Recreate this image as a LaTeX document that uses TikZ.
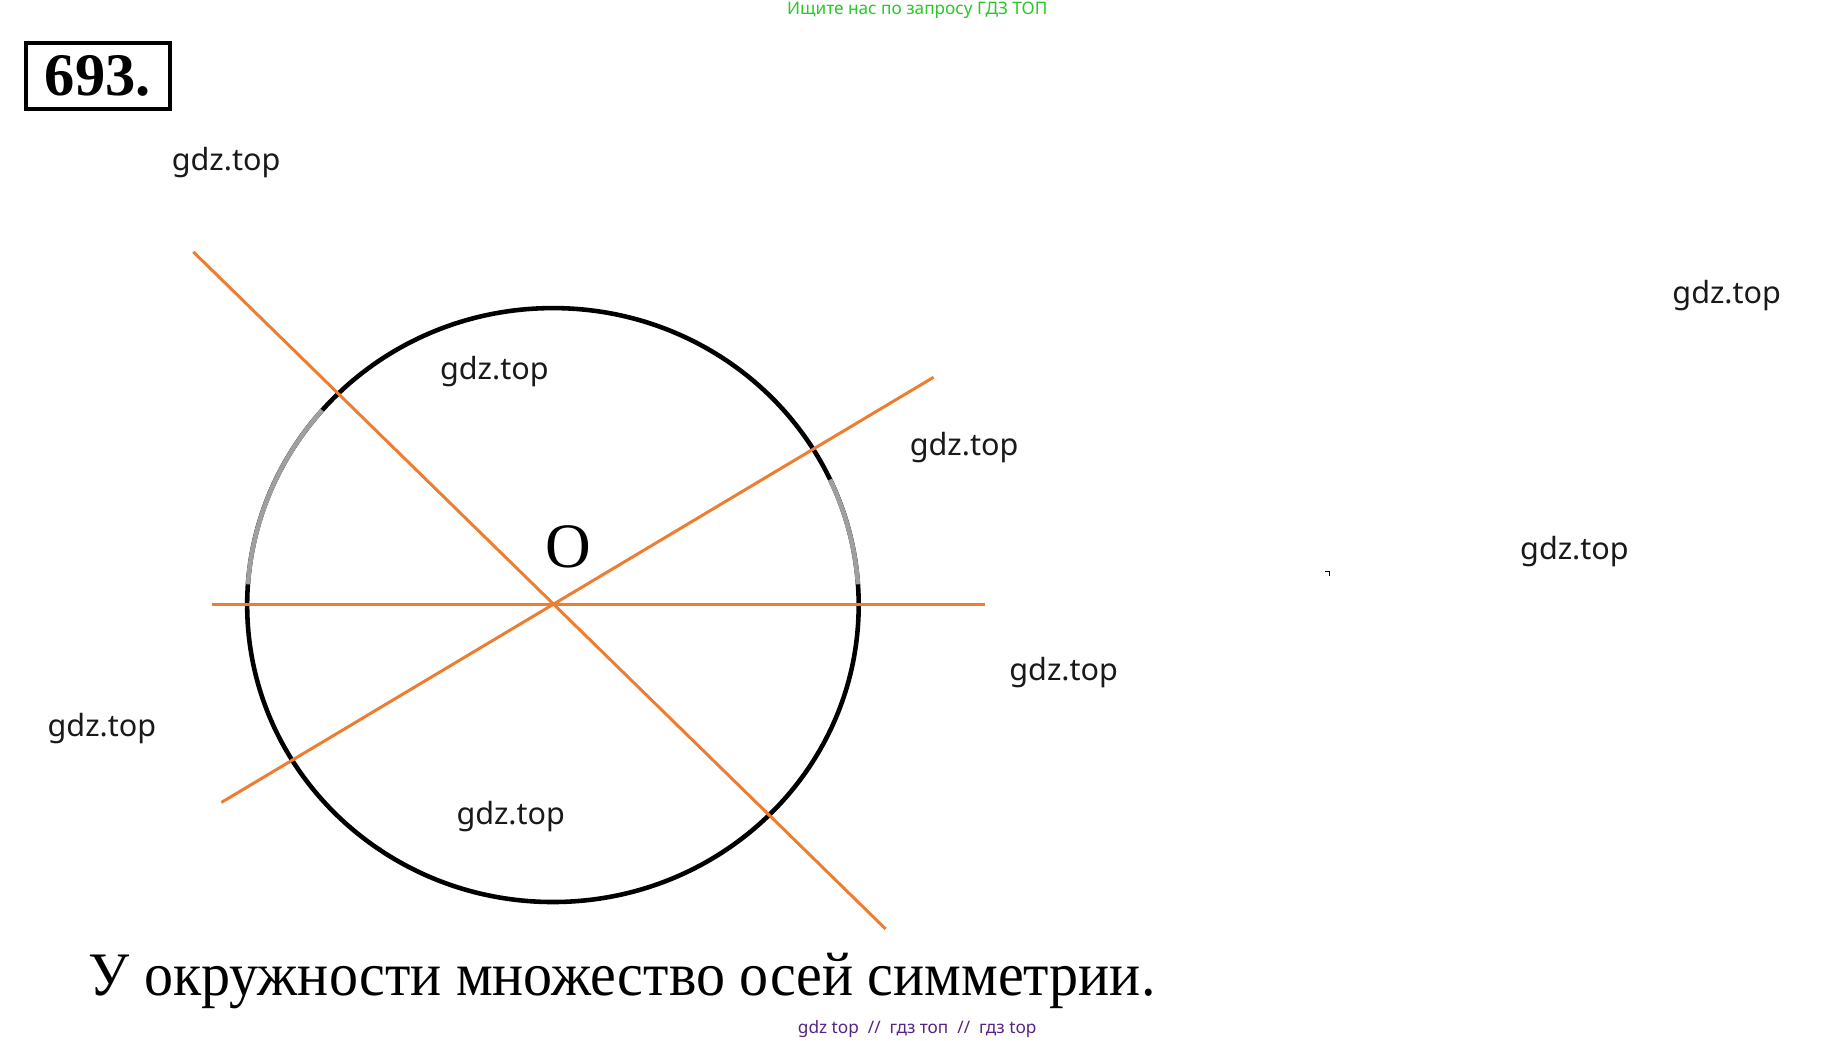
\documentclass[tikz,border=0pt]{standalone}
\usepackage{fontspec}
\setmainfont{Liberation Serif}
\newfontfamily\wmfont{Noto Sans}
\definecolor{axisorange}{RGB}{237,125,49}
\definecolor{hintgreen}{RGB}{40,200,40}
\definecolor{linkpurple}{RGB}{85,35,130}
\tikzset{
  axisline/.style={draw=axisorange, line width=0.85pt},
  wmark/.style={font=\wmfont\fontsize{8.7}{10}\selectfont, text=black!90},
  smallnote/.style={font=\wmfont\fontsize{4.9}{6}\selectfont},
}
\begin{document}
\begin{tikzpicture}[x=0.3333pt, y=-0.3333pt]
\useasboundingbox (0,0) rectangle (1563,888);
\coordinate (O) at (472,516.5);
\coordinate (h1) at (181,516);
\coordinate (h2) at (841,516);
\coordinate (a1) at (165,215);
\coordinate (a2) at (756,793);
\coordinate (b1) at (189,685);
\coordinate (b2) at (797,322);
\path[draw, line width=1.3pt] (O) ellipse [x radius=261, y radius=253.5];
\path[draw=gray!75, line width=1.3pt] (O) ++(-139:261 and 253.5) arc[start angle=-139, end angle=-176, x radius=261, y radius=253.5];
\path[draw=gray!75, line width=1.3pt] (O) ++(-25:261 and 253.5) arc[start angle=-25, end angle=-4, x radius=261, y radius=253.5];
\path[axisline] (h1) -- (h2);
\path[axisline] (a1) -- (a2);
\path[axisline] (b1) -- (b2);
\node[font=\fontsize{18}{20}\selectfont] (olabel) at (485,467) {O};
\node[draw, line width=1.15pt, minimum width=41pt, minimum height=18.7pt, inner sep=0pt, font=\bfseries\fontsize{17.2}{19}\selectfont] (num) at (83.5,65) {693.};
\node[anchor=base west, inner sep=0pt, font=\fontsize{17.6}{20}\selectfont] (answer) at (75,850) {\scalebox{0.938}[1]{У окружности множество осей симметрии.}};
\node[smallnote, text=hintgreen] (hint) at (783,9) {Ищите нас по запросу ГДЗ ТОП};
\node[smallnote, text=linkpurple] (links) at (783,878) {gdz top \ // \ гдз топ \ // \ гдз top};
\node[wmark] (w1) at (193,139) {gdz.top};
\node[wmark] (w2) at (1474,252) {gdz.top};
\node[wmark] (w3) at (422,317) {gdz.top};
\node[wmark] (w4) at (823,382) {gdz.top};
\node[wmark] (w5) at (1344,471) {gdz.top};
\node[wmark] (w6) at (908,574) {gdz.top};
\node[wmark] (w7) at (87,622) {gdz.top};
\node[wmark] (w8) at (436,697) {gdz.top};
\path[draw, line width=0.4pt] (1131,488) -- (1135,488) -- (1135,492);
\end{tikzpicture}
\end{document}
